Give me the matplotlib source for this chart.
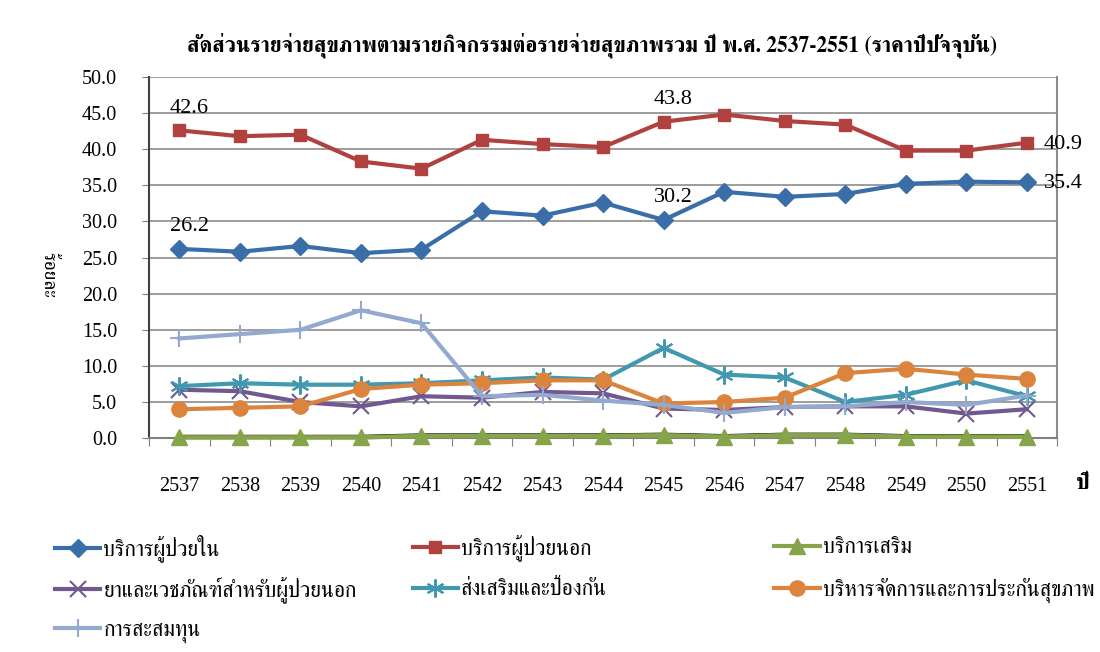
import matplotlib
matplotlib.use("Agg")
import matplotlib.pyplot as plt
from matplotlib import font_manager as fm
from matplotlib.ft2font import FT2Font
import matplotlib.patheffects as pe
import numpy as np

# ---------------- data ----------------
years = ["2537", "2538", "2539", "2540", "2541", "2542", "2543", "2544",
         "2545", "2546", "2547", "2548", "2549", "2550", "2551"]
inpatient = [26.2, 25.8, 26.6, 25.6, 26.1, 31.4, 30.8, 32.6, 30.2, 34.1, 33.4, 33.8, 35.2, 35.5, 35.4]
outpatient = [42.6, 41.8, 42.0, 38.3, 37.3, 41.3, 40.7, 40.3, 43.8, 44.8, 43.9, 43.4, 39.8, 39.8, 40.9]
supplementary = [0.1, 0.1, 0.1, 0.1, 0.3, 0.3, 0.3, 0.3, 0.4, 0.2, 0.4, 0.4, 0.2, 0.2, 0.2]
drugs = [6.7, 6.5, 5.0, 4.4, 5.8, 5.6, 6.4, 6.2, 4.1, 3.9, 4.3, 4.4, 4.4, 3.4, 4.0]
prevention = [7.2, 7.6, 7.4, 7.4, 7.6, 8.0, 8.4, 8.1, 12.5, 8.8, 8.4, 5.0, 6.0, 8.0, 5.8]
admin = [4.0, 4.2, 4.4, 6.8, 7.4, 7.6, 8.0, 8.0, 4.8, 5.0, 5.6, 9.0, 9.6, 8.8, 8.2]
capital = [13.8, 14.4, 15.0, 17.7, 15.9, 5.8, 6.0, 5.2, 4.6, 3.5, 4.3, 4.4, 5.0, 4.6, 5.9]

labels = ["บริการผู้ป่วยใน", "บริการผู้ป่วยนอก", "บริการเสริม",
          "ยาและเวชภัณฑ์สำหรับผู้ป่วยนอก", "ส่งเสริมและป้องกัน",
          "บริหารจัดการและการประกันสุขภาพ", "การสะสมทุน"]
title = "สัดส่วนรายจ่ายสุขภาพตามรายกิจกรรมต่อรายจ่ายสุขภาพรวม ปี พ.ศ. 2537-2551 (ราคาปีปัจจุบัน)"
ylabel = "ร้อยละ"
xlabel = "ปี"
yticks = [0, 5, 10, 15, 20, 25, 30, 35, 40, 45, 50]

# annotations: (series index, year index)
annots = [(1, 0), (0, 0), (1, 8), (0, 8), (1, 14), (0, 14)]

# ---------------- fonts ----------------
def find_thai_fonts():
    found = []
    seen = set()
    for f in fm.fontManager.ttflist:
        if f.fname in seen:
            continue
        seen.add(f.fname)
        try:
            ft = FT2Font(f.fname)
            cm = ft.get_charmap()
            if ord("ก") in cm and ord("ป") in cm:
                found.append(f.name)
        except Exception:
            pass
    return found

thai = find_thai_fonts()
pref = None
for key in ["Serif", "Norasi", "Loma", "Garuda", "Sans"]:
    for n in thai:
        if key in n:
            pref = n
            break
    if pref:
        break
if pref is None and thai:
    pref = thai[0]
thai_fam = ([pref] if pref else []) + ["DejaVu Sans"]
serif = "Liberation Serif"

# ---------------- plot ----------------
colors = ["#3A6EA8", "#B0413E", "#86A44A", "#71588F", "#4198AF", "#DB843D", "#93A9CF"]
markers = ["D", "s", "^", "x", (6, 2, 0), "o", "+"]
msizes = [9, 9, 11, 11, 13, 11, 13]
series = [inpatient, outpatient, supplementary, drugs, prevention, admin, capital]

fig = plt.figure(figsize=(11, 6.52), dpi=100)
ax = fig.add_axes([0.1355, 0.328, 0.8255, 0.554])
x = np.arange(len(years))

order = [6, 4, 3, 5, 0, 1, 2]
handles = {}
for i in order:
    if i == 2:
        ax.plot(x, series[i], color=colors[i], lw=3, zorder=3.1, clip_on=False,
                path_effects=[pe.SimpleLineShadow(offset=(0, 1.3), shadow_color="black",
                                                  alpha=1.0, linewidth=1.2), pe.Normal()])
    ln, = ax.plot(x, series[i], color=colors[i], lw=3, marker=markers[i], ms=msizes[i],
                  mew=1.5 if i in (3, 4, 6) else 1, mec=colors[i], mfc=colors[i],
                  label=labels[i], zorder=3 + i * 0.1 + (0.05 if i == 2 else 0), clip_on=False)
    handles[i] = ln

ax.set_xlim(-0.5, len(years) - 0.5)
ax.set_ylim(0, 50)
ax.set_yticks(yticks)
ax.set_yticklabels([f"{v:.1f}" for v in yticks], fontfamily=serif, fontsize=14.5)
ax.set_xticks(np.arange(-0.5, len(years), 1.0))
ax.set_xticklabels([])
ax.set_xticks(x, minor=True)
ax.set_xticklabels(years, minor=True, fontfamily=serif, fontsize=14.5)
ax.tick_params(axis="x", which="major", length=6, color="#808080", direction="out")
ax.tick_params(axis="x", which="minor", length=0, pad=28)
ax.tick_params(axis="y", length=5, color="#808080", pad=18)
ax.grid(axis="y", color="#8c8c8c", lw=1.2)
ax.set_axisbelow(True)
ax.spines["top"].set_visible(False)
ax.spines["right"].set_color("#8c8c8c")
ax.spines["right"].set_linewidth(1.5)
ax.spines["left"].set_color("#404040")
ax.spines["left"].set_linewidth(1.5)
ax.spines["bottom"].set_color("#808080")
ax.spines["bottom"].set_linewidth(1.5)

# annotations
for si, yi in annots:
    v = series[si][yi]
    if yi == len(years) - 1:
        ax.annotate(f"{v:.1f}", (x[yi], v), xytext=(12, -1), textcoords="offset points",
                    ha="left", va="center", fontfamily=serif, fontsize=16, annotation_clip=False)
    else:
        ax.annotate(f"{v:.1f}", (x[yi], v), xytext=(7, 9), textcoords="offset points",
                    ha="center", va="bottom", fontfamily=serif, fontsize=16)

fig.text(0.538, 0.931, title, ha="center", va="center", fontsize=15.5, fontweight="bold",
         family=thai_fam)
fig.text(0.044, 0.578, ylabel, ha="center", va="center", rotation=-90, fontsize=14,
         family=thai_fam)
fig.text(0.984, 0.258, xlabel, ha="center", va="center", fontsize=16, fontweight="bold",
         family=thai_fam)

# legend: one entry per position
pos = {0: (0.050, 548), 3: (0.050, 590), 6: (0.050, 632),
       1: (0.375, 548), 4: (0.375, 590),
       2: (0.704, 548), 5: (0.704, 590)}
for i, (xc, ypx) in pos.items():
    fig.legend(handles=[handles[i]], labels=[labels[i]], loc="center left",
               bbox_to_anchor=(xc, 1 - ypx / 652), frameon=False,
               prop={"family": thai_fam, "size": 15.5}, handlelength=2.1,
               handletextpad=0.15, borderaxespad=0, borderpad=0)

fig.savefig("out.png", dpi=100)
